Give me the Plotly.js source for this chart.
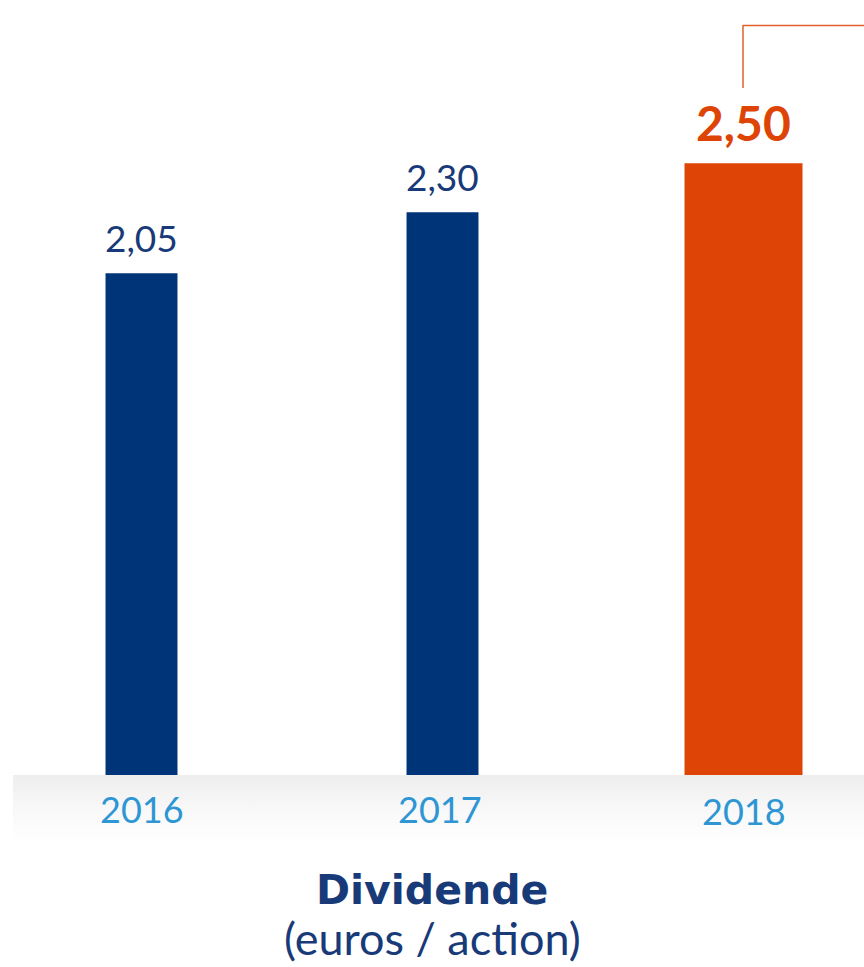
<!DOCTYPE html>
<html>
<head>
<meta charset="utf-8">
<script src="https://cdn.plot.ly/plotly-3.0.1.min.js"></script>
<style>
  html, body { margin: 0; padding: 0; background: #ffffff; }
  #wrap { position: relative; width: 864px; height: 967px; overflow: hidden; }
  #band { position: absolute; left: 13px; top: 775px; width: 851px; height: 68px;
          background: linear-gradient(to bottom, #eeeeee 0%, #f8f8f8 50%, #ffffff 100%); }
  #chart { position: absolute; left: 0; top: 0; width: 864px; height: 967px; }
</style>
</head>
<body>
<div id="wrap">
  <div id="band"></div>
  <div id="chart"></div>
</div>
<script>
// Data
const years = ["2016", "2017", "2018"];
const dividends = [2.05, 2.30, 2.50];
const valueLabels = ["2,05", "2,30", "2,50"];
const titleMain = "Dividende";
const titleSub = "(euros / action)";

// Styles
const DARK_BLUE = "#003478";
const ORANGE = "#DD4405";
const YEAR_BLUE = "#2F96D4";
const TITLE_BLUE = "#183A78";
const FONT = "Lato, 'Open Sans', sans-serif";

const barColors = [DARK_BLUE, DARK_BLUE, ORANGE];
const barWidths = [0.239, 0.239, 0.392];
const xIndex = years.map((_, i) => i);

const trace = {
  type: "bar",
  x: xIndex,
  y: dividends,
  width: barWidths,
  marker: { color: barColors, line: { width: 0 } },
  hoverinfo: "skip",
  showlegend: false
};

const annotations = [];
years.forEach((yr, i) => {
  const highlight = i === years.length - 1;
  annotations.push({
    x: i, y: dividends[i], xref: "x", yref: "y",
    text: valueLabels[i],
    showarrow: false,
    xanchor: "center", yanchor: "bottom",
    yshift: highlight ? 10 : 11,
    font: { family: FONT, size: highlight ? 48 : 37, color: highlight ? ORANGE : TITLE_BLUE, weight: highlight ? 700 : 400 }
  });
  annotations.push({
    x: i, y: 0, xref: "x", yref: "y",
    text: yr,
    showarrow: false,
    xanchor: "center", yanchor: "top",
    yshift: highlight ? -12 : -10,
    xshift: i === 1 ? -3 : 0,
    font: { family: FONT, size: 36, color: YEAR_BLUE }
  });
});

annotations.push({
  x: 0.5, xref: "paper", y: -0.149, yref: "paper",
  text: "<b>" + titleMain + "</b>",
  showarrow: false, xanchor: "center", yanchor: "middle",
  font: { family: "'DejaVu Sans', sans-serif", size: 41, color: TITLE_BLUE }
});
annotations.push({
  x: 0.5, xref: "paper", y: (775 - 966) / 775, yref: "paper",
  text: titleSub,
  showarrow: false, xanchor: "center", yanchor: "bottom",
  borderpad: 0,
  font: { family: FONT, size: 45, color: TITLE_BLUE }
});

const plotH = 775;
const layout = {
  width: 864,
  height: 967,
  margin: { l: 0, r: 0, t: 0, b: 967 - plotH, pad: 0 },
  paper_bgcolor: "rgba(0,0,0,0)",
  plot_bgcolor: "rgba(0,0,0,0)",
  xaxis: {
    range: [-141.5 / 301, (864 - 141.5) / 301],
    showgrid: false, zeroline: false, showline: false,
    showticklabels: false, ticks: "", fixedrange: true
  },
  yaxis: {
    range: [0, plotH / 244.7],
    showgrid: false, zeroline: false, showline: false,
    showticklabels: false, ticks: "", fixedrange: true
  },
  annotations: annotations,
  shapes: [
    { type: "line", xref: "paper", yref: "paper",
      x0: 743 / 864, x1: 743 / 864, y0: 1 - 25 / plotH, y1: 1 - 88 / plotH,
      line: { color: "#E0602A", width: 1.5 } },
    { type: "line", xref: "paper", yref: "paper",
      x0: 743 / 864, x1: 1.01, y0: 1 - 25.5 / plotH, y1: 1 - 25.5 / plotH,
      line: { color: "#E0602A", width: 1.5 } }
  ],
  showlegend: false
};

Plotly.newPlot("chart", [trace], layout, { displayModeBar: false, staticPlot: true });
</script>
</body>
</html>
